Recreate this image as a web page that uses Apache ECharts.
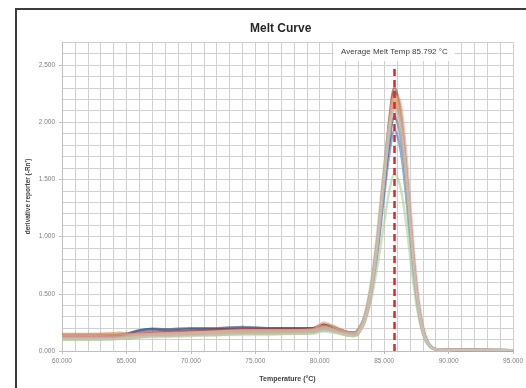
<!DOCTYPE html>
<html>
<head>
<meta charset="utf-8">
<script src="https://cdn.jsdelivr.net/npm/echarts@6/dist/echarts.min.js"></script>
<style>
  html, body { margin: 0; padding: 0; background: #ffffff; }
  #chart { width: 526px; height: 388px; }
</style>
</head>
<body>
<div id="chart"></div>
<script>
// Temperature steps (°C) shared by every well trace
const temperatures = [60, 62, 64, 64.5, 65, 66, 67, 68, 70, 72, 74, 76, 78, 79.5, 80.3, 81, 82, 82.6, 83, 83.5, 84, 84.5, 85, 85.4, 85.8, 86.2, 86.6, 87, 87.4, 87.8, 88.2, 88.6, 89, 90, 95];

// Derivative reporter (-Rn') for each well
const well01 = [0.13,0.13,0.135,0.14,0.15,0.18,0.19,0.18,0.19,0.19,0.19,0.18,0.18,0.19,0.22,0.20,0.16,0.15,0.17,0.27,0.50,0.88,1.36,1.72,1.93,1.80,1.46,1.00,0.56,0.26,0.10,0.035,0.015,0.01,0.008];
const well02 = [0.15,0.15,0.155,0.16,0.15,0.15,0.155,0.16,0.17,0.18,0.19,0.19,0.19,0.20,0.24,0.22,0.17,0.16,0.18,0.30,0.56,0.98,1.55,1.98,2.25,2.10,1.70,1.16,0.64,0.30,0.12,0.04,0.016,0.01,0.008];
const well03 = [0.12,0.12,0.125,0.13,0.13,0.14,0.15,0.15,0.16,0.17,0.17,0.17,0.17,0.18,0.21,0.19,0.15,0.14,0.16,0.28,0.54,0.96,1.50,1.94,2.20,2.06,1.68,1.14,0.63,0.29,0.11,0.04,0.015,0.01,0.008];
const well04 = [0.11,0.11,0.115,0.12,0.12,0.13,0.135,0.14,0.14,0.15,0.16,0.16,0.16,0.17,0.19,0.18,0.15,0.14,0.16,0.28,0.55,0.97,1.52,1.96,2.22,2.08,1.70,1.16,0.64,0.30,0.12,0.04,0.016,0.01,0.008];
const well05 = [0.12,0.12,0.12,0.125,0.13,0.14,0.15,0.15,0.15,0.16,0.17,0.17,0.17,0.17,0.20,0.18,0.15,0.14,0.16,0.27,0.52,0.93,1.46,1.88,2.15,2.02,1.64,1.12,0.62,0.29,0.11,0.04,0.015,0.01,0.008];
const well06 = [0.10,0.10,0.105,0.11,0.11,0.12,0.13,0.13,0.14,0.14,0.15,0.15,0.15,0.16,0.18,0.17,0.14,0.13,0.15,0.27,0.54,0.98,1.55,2.00,2.27,2.12,1.72,1.18,0.65,0.30,0.12,0.04,0.016,0.01,0.008];
const well07 = [0.13,0.13,0.135,0.14,0.15,0.18,0.195,0.19,0.20,0.20,0.21,0.20,0.20,0.20,0.23,0.21,0.17,0.16,0.18,0.29,0.53,0.92,1.44,1.82,2.05,1.92,1.56,1.06,0.59,0.27,0.10,0.035,0.015,0.01,0.008];
const well08 = [0.14,0.14,0.14,0.145,0.15,0.16,0.17,0.17,0.18,0.19,0.20,0.20,0.20,0.20,0.23,0.21,0.17,0.16,0.19,0.31,0.58,1.01,1.58,2.03,2.30,2.15,1.74,1.19,0.66,0.31,0.12,0.04,0.016,0.01,0.008];
const well09 = [0.11,0.11,0.11,0.115,0.12,0.13,0.13,0.135,0.14,0.14,0.15,0.15,0.15,0.16,0.18,0.17,0.14,0.13,0.15,0.25,0.45,0.76,1.12,1.40,1.55,1.46,1.20,0.84,0.48,0.23,0.09,0.03,0.013,0.01,0.008];
const well10 = [0.12,0.12,0.12,0.125,0.13,0.14,0.14,0.145,0.15,0.15,0.17,0.18,0.18,0.18,0.22,0.20,0.16,0.15,0.17,0.29,0.56,0.99,1.53,1.95,2.18,2.06,1.70,1.18,0.66,0.31,0.12,0.04,0.016,0.01,0.008];
const well11 = [0.14,0.14,0.145,0.15,0.15,0.15,0.15,0.155,0.16,0.17,0.18,0.18,0.18,0.19,0.25,0.22,0.17,0.16,0.18,0.30,0.57,1.00,1.56,2.00,2.24,2.11,1.73,1.19,0.66,0.31,0.12,0.04,0.016,0.01,0.008];
const well12 = [0.13,0.13,0.13,0.135,0.14,0.14,0.15,0.15,0.16,0.16,0.17,0.17,0.17,0.18,0.21,0.19,0.16,0.15,0.16,0.26,0.50,0.92,1.46,1.92,2.22,2.20,1.86,1.32,0.76,0.36,0.14,0.05,0.02,0.01,0.008];
const well13 = [0.11,0.11,0.11,0.115,0.12,0.13,0.14,0.14,0.15,0.16,0.16,0.16,0.16,0.17,0.19,0.18,0.15,0.15,0.18,0.33,0.62,1.08,1.62,1.98,2.10,1.90,1.50,1.00,0.54,0.24,0.09,0.03,0.013,0.01,0.008];
const well14 = [0.10,0.10,0.10,0.105,0.11,0.12,0.12,0.125,0.13,0.14,0.14,0.14,0.15,0.15,0.17,0.16,0.14,0.13,0.15,0.27,0.52,0.94,1.48,1.88,2.12,2.00,1.64,1.13,0.63,0.29,0.11,0.04,0.015,0.01,0.008];

const wells = [well01, well02, well03, well04, well05, well06, well07, well08, well09, well10, well11, well12, well13, well14];
const wellColors = ['#4472C4', '#ED7D31', '#A5A5A5', '#FFC000', '#5B9BD5', '#70AD47', '#264478', '#A5332B',
                    '#A9D18E', '#C9A27E', '#F4B183', '#D9A3A0', '#B4C7A8', '#C9C9C9'];

// Axis tick labels
const xTickLabels = [60, 65, 70, 75, 80, 85, 90, 95];
const yTickLabels = [0, 0.5, 1.0, 1.5, 2.0, 2.5];

const averageMeltTemp = 85.792;

const FONT = 'Liberation Sans, Arial, sans-serif';
const chart = echarts.init(document.getElementById('chart'), null, { renderer: 'canvas' });

const isMajor = (v, step) => Math.abs(v / step - Math.round(v / step)) < 1e-6;

const series = wells.map((vals, i) => ({
  type: 'line',
  name: 'Well ' + (i + 1),
  data: temperatures.map((t, k) => [t, vals[k]]),
  smooth: 0.35,
  showSymbol: false,
  lineStyle: { color: wellColors[i], width: 2.4, opacity: 0.6 },
  itemStyle: { color: wellColors[i] },
  silent: true
}));

series.push({
  type: 'line',
  name: 'Average Tm',
  data: [],
  silent: true,
  markLine: {
    silent: true,
    symbol: 'none',
    lineStyle: { color: '#E3242B', type: [7, 4], width: 2.5, opacity: 1 },
    label: {
      show: true,
      position: 'end',
      distance: 4,
      formatter: 'Average Melt Temp ' + averageMeltTemp.toFixed(3) + ' °C',
      backgroundColor: '#ffffff',
      padding: [5, 7],
      color: '#404040',
      fontSize: 8,
      fontFamily: FONT
    },
    data: [[{ coord: [averageMeltTemp, 0] }, { coord: [averageMeltTemp, 2.5] }]]
  }
});

const labelStyle = { fontSize: 6.5, color: '#7f7f7f', fontFamily: FONT };

chart.setOption({
  animation: false,
  backgroundColor: '#ffffff',
  title: {
    text: 'Melt Curve',
    left: 245,
    top: 18,
    textStyle: { fontSize: 12, fontWeight: 'bold', color: '#262626', fontFamily: FONT }
  },
  grid: { left: 62, right: 9, top: 42, bottom: 35 },
  xAxis: [{
    type: 'value',
    min: 60,
    max: 95,
    interval: 1,
    name: 'Temperature (°C)',
    nameLocation: 'middle',
    nameGap: 25,
    nameMoveOverlap: false,
    nameTextStyle: { fontSize: 7, fontWeight: 'bold', color: '#404040', fontFamily: FONT },
    axisLine: { show: true, lineStyle: { color: '#bfbfbf', width: 1 } },
    axisTick: { show: false },
    axisLabel: Object.assign({
      margin: 7,
      showMinLabel: true,
      showMaxLabel: true,
      hideOverlap: false,
      interval: 0,
      formatter: v => (isMajor(v, 5) ? v.toFixed(3) : '')
    }, labelStyle),
    splitLine: { show: true, lineStyle: { color: '#d0d0d0', width: 1 } }
  }, {
    // tick marks at the labelled temperatures
    type: 'value',
    position: 'bottom',
    min: 60,
    max: 95,
    axisLine: { show: false },
    axisTick: { show: true, length: 3, customValues: xTickLabels, lineStyle: { color: '#bfbfbf' } },
    axisLabel: { show: false },
    splitLine: { show: false }
  }],
  yAxis: [{
    type: 'value',
    min: 0,
    max: 2.7,
    interval: 0.1,
    name: "derivative reporter (-Rn')",
    nameLocation: 'middle',
    nameGap: 30,
    nameMoveOverlap: false,
    nameTextStyle: { fontSize: 6.5, fontWeight: 'bold', color: '#404040', fontFamily: FONT },
    axisLine: { show: true, lineStyle: { color: '#bfbfbf', width: 1 } },
    axisTick: { show: false },
    axisLabel: Object.assign({
      margin: 7,
      showMinLabel: true,
      showMaxLabel: false,
      hideOverlap: false,
      formatter: v => (isMajor(v, 0.5) ? v.toFixed(3) : '')
    }, labelStyle),
    splitLine: { show: true, lineStyle: { color: '#d0d0d0', width: 1 } }
  }, {
    // tick marks at the labelled values
    type: 'value',
    position: 'left',
    min: 0,
    max: 2.7,
    axisLine: { show: false },
    axisTick: { show: true, length: 3, customValues: yTickLabels, lineStyle: { color: '#bfbfbf' } },
    axisLabel: { show: false },
    splitLine: { show: false }
  }],
  graphic: [{
    type: 'polyline',
    silent: true,
    z: 100,
    shape: { points: [[16, 400], [16, 9], [540, 9]] },
    style: { stroke: '#3c3c3c', lineWidth: 2, fill: null }
  }],
  series: series
});
</script>
</body>
</html>
